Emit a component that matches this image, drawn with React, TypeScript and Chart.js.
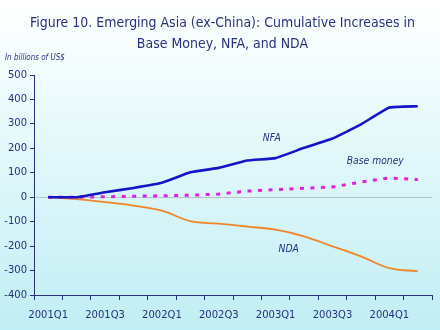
import React, { useEffect, useRef } from 'react';
import { Chart, registerables } from 'chart.js';

Chart.register(...registerables);

const categories = [
  '2001Q1', '2001Q2', '2001Q3', '2001Q4',
  '2002Q1', '2002Q2', '2002Q3', '2002Q4',
  '2003Q1', '2003Q2', '2003Q3', '2003Q4',
  '2004Q1', '2004Q2',
];
const nfa = [0, 0, 20, 38, 59, 102, 120, 150, 160, 202, 240, 298, 367, 372];
const baseMoney = [0, 0, 2, 4, 6, 8, 13, 25, 31, 37, 42, 62, 79, 72];
const nda = [0, -8, -20, -34, -55, -98, -108, -120, -133, -160, -201, -242, -290, -303];

const yMin = -400;
const yMax = 500;
const yStep = 100;

const titleLines = [
  'Figure 10. Emerging Asia (ex-China): Cumulative Increases in',
  'Base Money, NFA, and NDA',
];
const unitLabel = 'In billions of US$';
const seriesNames = ['NFA', 'Base money', 'NDA'];
// anchor (left edge / baseline) of inline series labels, in data coordinates
const labelAnchors = [
  { x: 7.55, y: 232 },
  { x: 10.5, y: 134 },
  { x: 8.1, y: -223 },
];

const NAVY = '#28307c';
const FONT = '"DejaVu Sans", Verdana, sans-serif';
const SQUEEZE = 0.84;

function drawSqueezed(ctx: CanvasRenderingContext2D, text: string, x: number, y: number, font: string, align: CanvasTextAlign, sx: number) {
  ctx.save();
  ctx.font = font;
  ctx.textAlign = align;
  ctx.textBaseline = 'alphabetic';
  ctx.translate(x, y);
  ctx.scale(sx, 1);
  ctx.fillText(text, 0, 0);
  ctx.restore();
}

const bgPlugin = {
  id: 'bg',
  beforeDraw(chart: any) {
    const { ctx, width, height } = chart;
    const g = ctx.createLinearGradient(0, 0, 0, height);
    g.addColorStop(0, '#ffffff');
    g.addColorStop(0.25, '#f0fcfd');
    g.addColorStop(1, '#c0eef4');
    ctx.save();
    ctx.fillStyle = g;
    ctx.fillRect(0, 0, width, height);
    ctx.restore();
  },
};

const textPlugin = {
  id: 'texts',
  afterDraw(chart: any) {
    const { ctx } = chart;
    ctx.save();
    ctx.fillStyle = NAVY;
    const tFont = `14.5px ${FONT}`;
    ctx.font = tFont;
    const w = ctx.measureText(titleLines[0]).width;
    const s = 385 / w;
    drawSqueezed(ctx, titleLines[0], 222.5, 27, tFont, 'center', s);
    drawSqueezed(ctx, titleLines[1], 222.5, 48, tFont, 'center', s);
    drawSqueezed(ctx, unitLabel, 5, 60, `italic 8.5px ${FONT}`, 'left', SQUEEZE);
    const xs = chart.scales.x;
    const ys = chart.scales.y;
    seriesNames.forEach((name, i) => {
      const a = labelAnchors[i];
      drawSqueezed(ctx, name, xs.getPixelForValue(a.x), ys.getPixelForValue(a.y), `italic 11px ${FONT}`, 'left', SQUEEZE);
    });
    ctx.restore();
  },
};

export default function App() {
  const ref = useRef<HTMLCanvasElement | null>(null);
  useEffect(() => {
    if (!ref.current) return;
    const chart = new Chart(ref.current, {
      type: 'line',
      data: {
        labels: categories,
        datasets: [
          {
            label: seriesNames[0],
            data: nfa,
            borderColor: '#1414c8',
            borderWidth: 2.6,
            pointRadius: 0,
            tension: 0.1,
          },
          {
            label: seriesNames[1],
            data: baseMoney,
            borderColor: '#e020e0',
            borderWidth: 3,
            borderDash: [4, 6.5],
            borderCapStyle: 'butt',
            pointRadius: 0,
            tension: 0,
          },
          {
            label: seriesNames[2],
            data: nda,
            borderColor: '#f08428',
            borderWidth: 1.8,
            pointRadius: 0,
            tension: 0.4,
          },
        ],
      },
      options: {
        animation: false,
        responsive: false,
        events: [],
        layout: { padding: { top: 75, right: 8, left: 0, bottom: 0 } },
        plugins: {
          legend: { display: false },
          tooltip: { enabled: false },
          title: { display: false },
        },
        scales: {
          x: {
            type: 'category',
            offset: true,
            afterFit: (scale: any) => { scale.height = 35; },
            border: { color: NAVY, width: 1 },
            grid: {
              offset: true,
              drawOnChartArea: false,
              drawTicks: true,
              tickLength: 5,
              tickColor: NAVY,
              color: NAVY,
            },
            ticks: {
              autoSkip: false,
              maxRotation: 0,
              minRotation: 0,
              padding: 9,
              color: NAVY,
              font: { family: FONT, size: 10 },
              callback: (_v: any, i: number) => (i % 2 === 0 ? categories[i] : ''),
            },
          },
          y: {
            min: yMin,
            max: yMax,
            afterFit: (scale: any) => { scale.width = 34; },
            border: { color: NAVY, width: 1 },
            grid: {
              drawOnChartArea: true,
              drawTicks: true,
              tickLength: 4,
              tickColor: NAVY,
              color: (c: any) => (c.tick && c.tick.value === 0 ? '#b4c6ca' : 'rgba(0,0,0,0)'),
            },
            ticks: {
              stepSize: yStep,
              padding: 3,
              color: NAVY,
              font: { family: FONT, size: 10 },
            },
          },
        },
      },
      plugins: [bgPlugin, textPlugin],
    } as any);
    return () => chart.destroy();
  }, []);
  return (
    <div style={{ position: 'absolute', left: 0, top: 0, width: 440, height: 330 }}>
      <canvas ref={ref} width={440} height={330} style={{ display: 'block', width: 440, height: 330 }} />
    </div>
  );
}
